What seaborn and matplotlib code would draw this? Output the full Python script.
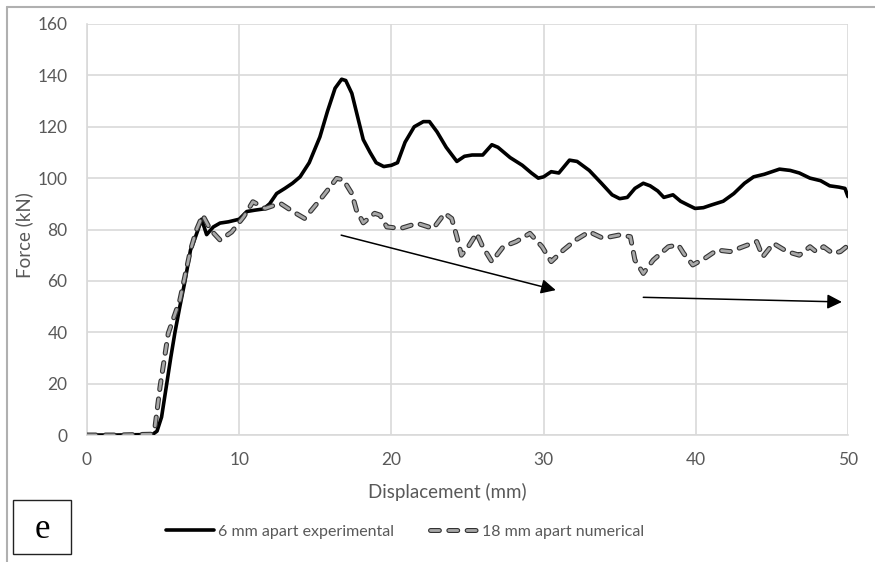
import matplotlib
matplotlib.use("Agg")
import matplotlib.pyplot as plt
import matplotlib.patheffects as pe
from matplotlib.lines import Line2D
from matplotlib.patches import Rectangle
import seaborn as sns
import pandas as pd

# ---- data ----
exp_x = [0, 2, 4.3, 4.6, 4.9, 5.24, 5.5, 5.78, 6.1, 6.44, 6.8, 7.0, 7.3, 7.53, 7.86,
         8.3, 8.74, 9.3, 10.0, 10.5, 11.0, 11.6, 12.0, 12.46, 13.0, 13.5, 14.0, 14.6,
         15.3, 15.8, 16.3, 16.73, 17.0, 17.4, 18.15, 18.6, 19.0, 19.5, 20.0, 20.4,
         20.9, 21.5, 22.1, 22.5, 23.0, 23.6, 24.3, 24.8, 25.3, 26.0, 26.6, 27.0, 27.8,
         28.6, 29.2, 29.65, 30.0, 30.5, 31.0, 31.7, 32.2, 33.0, 33.8, 34.5, 35.0, 35.5,
         36.0, 36.55, 37.0, 37.5, 37.9, 38.5, 39.0, 39.5, 39.95, 40.5, 41.0, 41.8,
         42.5, 43.2, 43.8, 44.5, 45.5, 46.2, 46.8, 47.5, 48.2, 48.8, 49.4, 49.8, 50.0]
exp_y = [0, 0, 0.2, 1.5, 7, 20, 30, 40, 50, 60, 72, 75, 80, 84, 78,
         81, 82.5, 83, 84, 87, 87.5, 88, 90, 94, 96, 98, 100.5, 106,
         116, 126, 135, 138.5, 138, 133, 115, 110, 106, 104.5, 105, 106,
         114, 120, 122, 122, 118, 112, 106.5, 108.5, 109, 109, 113, 112, 108,
         105, 102, 100, 100.5, 102.5, 102, 107, 106.5, 103, 98, 93.5, 92, 92.5,
         96, 98, 97, 95, 92.5, 93.5, 91, 89.5, 88.2, 88.5, 89.5, 91,
         94, 98, 100.5, 101.5, 103.5, 103, 102, 100, 99, 97, 96.5, 96, 92.8]

num_x = [0, 2, 4.2, 4.47, 4.8, 5.34, 6.1, 6.8, 7.2, 7.6, 8.1, 8.74, 9.5, 10.3, 10.9,
         11.7, 12.7, 13.55, 14.3, 15.3, 15.9, 16.4, 16.85, 17.4, 17.7, 18.15, 18.9,
         19.25, 19.7, 20.6, 21.7, 22.75, 23.5, 23.96, 24.3, 24.6, 25.05, 25.6, 26.0,
         26.6, 27.35, 28.2, 29.1, 29.9, 30.5, 31.3, 32.1, 33.0, 33.9, 35.0, 35.7, 36.0,
         36.55, 37.2, 38.2, 38.85, 39.2, 39.8, 40.6, 41.4, 42.25, 43.1, 44.0, 44.4,
         45.1, 46.0, 46.8, 47.5, 47.9, 48.4, 49.0, 49.5, 49.9, 50.0]
num_y = [0, 0, 0.3, 3.2, 18.8, 39.6, 52.5, 72, 80, 85.6, 80, 75.9, 79, 85, 90.8,
         88.2, 90.2, 86.9, 84.3, 91.5, 96, 99.9, 99.3, 94, 87.6, 82.6, 86.3,
         85.6, 81, 80.4, 82.4, 80.4, 86.3, 84.3, 77.2, 70, 73.3, 78.5, 73.3,
         67.5, 73.3, 75.3, 78.5, 73.3, 67.5, 72, 75.9, 79.1, 76.6, 77.9, 77.2, 68.1,
         62.9, 68.1, 73.3, 74, 70.7, 66.2, 68.8, 72, 71.4, 73.3, 75.3, 69.4,
         74.6, 71.4, 70, 73.3, 71.4, 73.3, 70.7, 71.4, 73.3, 70.5]

series_labels = ["6 mm apart experimental", "18 mm apart numerical"]
x_ticks = [0, 10, 20, 30, 40, 50]
y_ticks = [0, 20, 40, 60, 80, 100, 120, 140, 160]
x_label = "Displacement (mm)"
y_label = "Force (kN)"
panel_letter = "e"
# trend arrows: (x_start, y_start, x_end, y_end) in data units
arrow_1 = (16.7, 77.8, 30.8, 56.4)
arrow_2 = (36.55, 53.6, 49.6, 51.8)

# ---- style ----
sns.set_style("white")
plt.rcParams["font.family"] = ["Lato", "DejaVu Sans"]
text_grey = "#595959"
grid_grey = "#d9d9d9"

fig = plt.figure(figsize=(8.75, 5.62), dpi=100)
ax = fig.add_axes([87 / 875, 1 - 435 / 562, (848 - 87) / 875, (435 - 24) / 562])

df_exp = pd.DataFrame({"x": exp_x, "y": exp_y})
df_num = pd.DataFrame({"x": num_x, "y": num_y})

sns.lineplot(data=df_exp, x="x", y="y", ax=ax, color="black", linewidth=2.6,
             estimator=None, sort=False, label=series_labels[0], zorder=4)
sns.lineplot(data=df_num, x="x", y="y", ax=ax, color="#a8a8a8", linewidth=2.0,
             estimator=None, sort=False, label=series_labels[1], zorder=5)

num_line = ax.lines[1]
num_line.set_linestyle((0, (3.2, 3.4)))
num_line.set_dash_capstyle("round")
num_line.set_path_effects([pe.Stroke(linewidth=3.6, foreground="#333333"), pe.Normal()])

ax.set_xlim(0, 50)
ax.set_ylim(0, 160)
ax.set_xticks(x_ticks)
ax.set_yticks(y_ticks)
ax.grid(True, color=grid_grey, linewidth=1.2)
ax.set_axisbelow(True)
for s in ["top", "right"]:
    ax.spines[s].set_visible(False)
for s in ["left", "bottom"]:
    ax.spines[s].set_color(grid_grey)
    ax.spines[s].set_linewidth(1.2)
ax.tick_params(axis="both", length=0, labelsize=12.5, labelcolor=text_grey)
ax.tick_params(axis="y", pad=14)
ax.tick_params(axis="x", pad=12)

ax.set_xlabel(x_label, fontsize=13.5, color=text_grey)
ax.set_ylabel(y_label, fontsize=13.5, color=text_grey)
ax.xaxis.set_label_coords(0.473, -0.117)
ax.yaxis.set_label_coords(-0.071, 0.487)

for (x0, y0, x1, y1) in (arrow_1, arrow_2):
    ax.annotate("", xy=(x1, y1), xytext=(x0, y0),
                arrowprops=dict(arrowstyle="-|>", color="black", lw=1.1,
                                mutation_scale=22, shrinkA=0, shrinkB=0),
                zorder=6)

ax.get_legend().remove()
handles, labels = ax.get_legend_handles_labels()
leg = fig.legend(handles, labels, loc="center", bbox_to_anchor=(405 / 875, 1 - 532 / 562),
                 ncol=2, frameon=False, fontsize=11.5, handlelength=3.0,
                 handletextpad=0.3, columnspacing=2.2)
for t in leg.get_texts():
    t.set_color(text_grey)

# panel letter box
fig.patches.append(Rectangle((13 / 875, 1 - 554 / 562), 58 / 875, 54 / 562,
                             transform=fig.transFigure, fill=False,
                             edgecolor="#222222", linewidth=1.0))
fig.text(42 / 875, 1 - 529 / 562, panel_letter, ha="center", va="center",
         fontsize=25, family=["Liberation Serif", "DejaVu Serif"], color="black")

# outer figure border (left and top)
fig.lines.append(Line2D([7 / 875, 7 / 875], [0, 1 - 7 / 562], transform=fig.transFigure,
                        color="#b0b0b0", linewidth=1.5))
fig.lines.append(Line2D([7 / 875, 1], [1 - 7 / 562, 1 - 7 / 562], transform=fig.transFigure,
                        color="#b0b0b0", linewidth=1.5))

fig.savefig("out.png", dpi=100)
